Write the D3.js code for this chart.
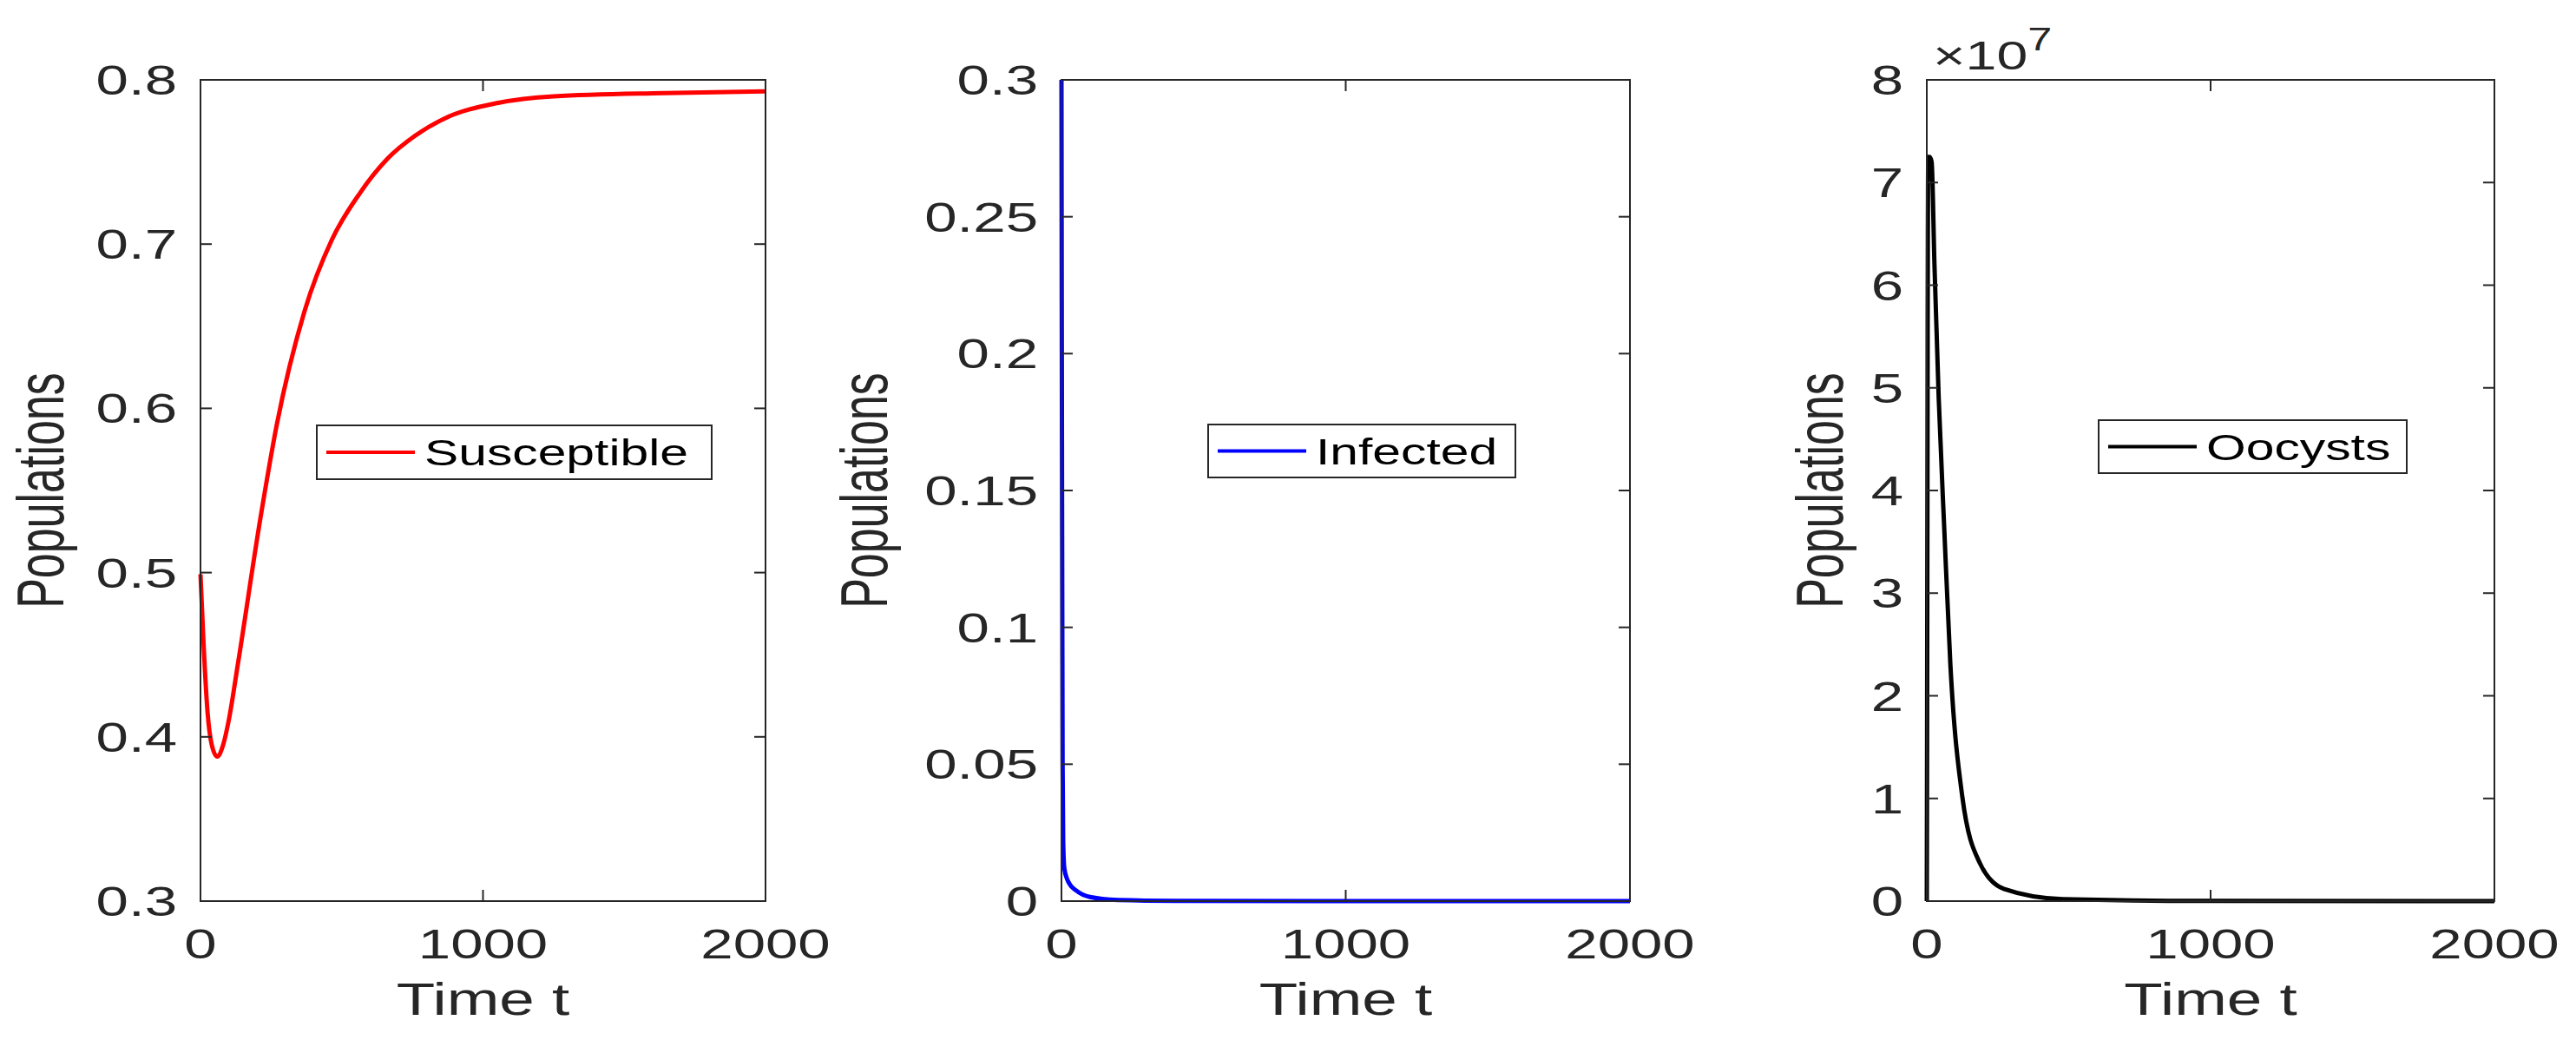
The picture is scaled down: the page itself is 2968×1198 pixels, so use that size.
<!DOCTYPE html>
<html><head><meta charset="utf-8">
<script src="https://cdn.jsdelivr.net/npm/d3@7"></script>
<style>body{margin:0;background:#fff}text{font-family:"Liberation Sans",Arial,sans-serif;fill:#262626}</style>
</head><body><svg id="c" width="2968" height="1198"></svg>
<script>
const xTicks=[0,1000,2000];
const sT=[0,10,25,40,59,80,100,133,212,270,368,466,564,662,760,858,1054,1250,1642,2000];
const sV=[0.499,0.46,0.415,0.395,0.388,0.395,0.41,0.445,0.533,0.59,0.659,0.703,0.731,0.752,0.766,0.776,0.786,0.790,0.792,0.793];
const iT=[0,1,2,4,6,10,20,30,50,100,200,400,1000,2000];
const iV=[0.3,0.22,0.15,0.05,0.022,0.012,0.008,0.006,0.004,0.0015,0.0004,0.0001,0,0];
const oT=[0,1,3,5,10,17,27,42,62,83,125,187,271,479,1000,2000];
const oV=[0,1.5,5.5,7.25,7.25,7.2,6.2,4.9,3.6,2.31,1.02,0.37,0.12,0.02,0.002,0];
const yS=[0.3,0.4,0.5,0.6,0.7,0.8],yI=[0,0.05,0.1,0.15,0.2,0.25,0.3],yO=[0,1,2,3,4,5,6,7,8];
const panels=[
 {x0:231,x1:882,dom:[0.3,0.8],ticks:yS,fmt:d3.format(".1f"),t:sT,v:sV,col:"#ff0000",name:"Susceptible",ylx:54,leg:[365,490,455,62]},
 {x0:1223,x1:1878,dom:[0,0.3],ticks:yI,fmt:d=>d===0?"0":String(d),t:iT,v:iV,col:"#0000ff",name:"Infected",ylx:1003,leg:[1392,489,354,61]},
 {x0:2220,x1:2874,dom:[0,8],ticks:yO,fmt:d=>String(d),t:oT,v:oV,col:"#000000",name:"Oocysts",ylx:2104,leg:[2418,484,355,61]}];
const yTop=92,yBot=1038,SX=1.4;
const svg=d3.select("#c");
function txt(g,x,y,s,size,anchor,extra){
  const t=g.append("text").attr("transform",`translate(${x},${y}) ${extra||""} scale(${SX},1)`)
   .attr("font-size",size).attr("text-anchor",anchor).text(s);return t;}
panels.forEach(p=>{
  const x=d3.scaleLinear().domain([0,2000]).range([p.x0,p.x1]);
  const y=d3.scaleLinear().domain(p.dom).range([yBot,yTop]);
  const g=svg.append("g");
  const ln=d3.line().x((d,i)=>x(p.t[i])).y(d=>y(d)).curve(d3.curveMonotoneX);
  g.append("path").datum(p.v).attr("d",ln).attr("fill","none").attr("stroke",p.col).attr("stroke-width",5);
  g.append("rect").attr("x",p.x0).attr("y",yTop).attr("width",p.x1-p.x0).attr("height",yBot-yTop).attr("fill","none").attr("stroke","#262626").attr("stroke-width",2);
  const ax=g.append("g").attr("stroke","#262626").attr("stroke-width",2);
  xTicks.forEach(d=>{ax.append("line").attr("x1",x(d)).attr("x2",x(d)).attr("y1",yBot).attr("y2",yBot-13);
    ax.append("line").attr("x1",x(d)).attr("x2",x(d)).attr("y1",yTop).attr("y2",yTop+13);
    txt(g,x(d),1104,String(d),48,"middle");});
  p.ticks.forEach(d=>{ax.append("line").attr("x1",p.x0).attr("x2",p.x0+13).attr("y1",y(d)).attr("y2",y(d));
    ax.append("line").attr("x1",p.x1).attr("x2",p.x1-13).attr("y1",y(d)).attr("y2",y(d));
    txt(g,p.x0-27,y(d)+17,p.fmt(d),48,"end");});
  txt(g,(p.x0+p.x1)/2,1169,"Time t",52,"middle");
  g.append("text").attr("transform",`translate(${p.ylx+19},565) rotate(-90) scale(1,1.45)`).attr("font-size",52).attr("text-anchor","middle").text("Populations");
  const [lx,ly,lw,lh]=p.leg;
  g.append("rect").attr("x",lx).attr("y",ly).attr("width",lw).attr("height",lh).attr("fill","#fff").attr("stroke","#262626").attr("stroke-width",2);
  g.append("line").attr("x1",lx+11).attr("x2",lx+113).attr("y1",ly+lh/2).attr("y2",ly+lh/2).attr("stroke",p.col).attr("stroke-width",4);
  txt(g,lx+124,ly+lh/2+15,p.name,42,"start").style("fill","#000");
});
const e=svg.append("text").attr("transform","translate(2227,80) scale(1.4,1)").attr("font-size",46);
e.append("tspan").text("×10");
e.append("tspan").attr("dy",-22).attr("font-size",36).text("7");
</script></body></html>
